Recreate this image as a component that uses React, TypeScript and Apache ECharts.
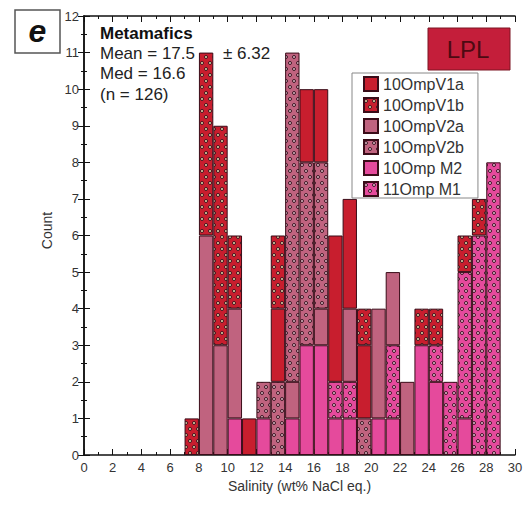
import React, { useEffect, useRef } from "react";
import * as echarts from "echarts";

// Bin lower edges (bin width = 1 wt%)
const binStarts = [7, 8, 9, 10, 11, 12, 13, 14, 15, 16, 17, 18, 19, 20, 21, 22, 23, 24, 25, 26, 27, 28];
// Counts per bin, stacked bottom-to-top in this order: M2, M1, V2a, V2b, V1a, V1b
const m2 = [0, 0, 0, 1, 0, 1, 0, 1, 3, 3, 1, 1, 0, 1, 1, 0, 3, 2, 0, 1, 0, 0];
const m1 = [0, 0, 0, 0, 0, 0, 0, 0, 0, 0, 1, 1, 0, 0, 2, 0, 0, 1, 2, 4, 6, 8];
const v2a = [0, 6, 3, 3, 0, 0, 0, 1, 0, 1, 0, 2, 0, 3, 2, 2, 0, 0, 0, 0, 0, 0];
const v2b = [0, 0, 0, 0, 0, 1, 2, 9, 5, 4, 0, 0, 1, 0, 0, 0, 0, 0, 0, 0, 0, 0];
const v1a = [0, 0, 0, 0, 1, 0, 2, 0, 2, 2, 4, 3, 2, 0, 0, 0, 0, 0, 0, 0, 0, 0];
const v1b = [1, 5, 6, 2, 0, 0, 2, 0, 0, 0, 0, 0, 1, 0, 0, 0, 1, 1, 0, 1, 1, 0];

const allBins = Array.from({ length: 30 }, (_, i) => String(i));
const statLines = ["Mean = 17.5", "Med = 16.6", "(n = 126)"];
const statSd = "± 6.32";

const FONT = "'Liberation Sans', Arial, Helvetica, sans-serif";
const RED = "#c81e2e";
const MAUVE = "#c0637f";
const PINK = "#e54a9c";
const BORDER = "#3a0c18";

function dotPattern(bg: string, center: string) {
  const c = document.createElement("canvas");
  c.width = 8;
  c.height = 12;
  const ctx = c.getContext("2d")!;
  ctx.fillStyle = bg;
  ctx.fillRect(0, 0, 8, 12);
  const dots = [
    [2, 3],
    [6, 9],
  ];
  for (const [x, y] of dots) {
    ctx.beginPath();
    ctx.arc(x, y, 1.5, 0, Math.PI * 2);
    ctx.fillStyle = center;
    ctx.fill();
    ctx.lineWidth = 0.9;
    ctx.strokeStyle = "#2a0a14";
    ctx.stroke();
  }
  return { image: c, repeat: "repeat", imageWidth: 8, imageHeight: 12 } as any;
}

function toFull(vals: number[]) {
  const out: (number | null)[] = allBins.map(() => null);
  binStarts.forEach((b, i) => {
    out[b] = vals[i] > 0 ? vals[i] : null;
  });
  return out;
}

export default function App() {
  const ref = useRef<HTMLDivElement>(null);
  useEffect(() => {
    if (!ref.current) return;
    const chart = echarts.init(ref.current, undefined, { renderer: "svg" });
    const axisLine = { show: true, lineStyle: { color: "#111", width: 1.5 } };
    const tick = { show: true, inside: true, length: 6, lineStyle: { color: "#111", width: 1 } };
    const minor = { show: true, splitNumber: 2, length: 3, lineStyle: { color: "#111", width: 1 } };
    const mk = (name: string, vals: number[], color: any) => ({
      name,
      type: "bar",
      stack: "all",
      xAxisIndex: 0,
      yAxisIndex: 0,
      barWidth: "100%",
      data: toFull(vals),
      itemStyle: { color, borderColor: BORDER, borderWidth: 1 },
      emphasis: { disabled: true },
    });
    const series = [
      mk("10Omp M2", m2, PINK),
      mk("11Omp M1", m1, dotPattern(PINK, "#f6c6de")),
      mk("10OmpV2a", v2a, MAUVE),
      mk("10OmpV2b", v2b, dotPattern(MAUVE, "#e8c2cf")),
      mk("10OmpV1a", v1a, RED),
      mk("10OmpV1b", v1b, dotPattern(RED, "#f7e6b8")),
    ];
    chart.setOption({
      animation: false,
      backgroundColor: "#fff",
      textStyle: { fontFamily: FONT },
      grid: { left: 84, right: 17, top: 16, bottom: 57, containLabel: false },
      xAxis: [
        { type: "category", data: allBins, show: false, boundaryGap: true, position: "top" },
        {
          type: "value",
          min: 0,
          max: 30,
          interval: 2,
          position: "bottom",
          axisLine,
          axisTick: tick,
          minorTick: minor,
          splitLine: { show: false },
          axisLabel: { color: "#333", fontSize: 13, margin: 6, fontFamily: FONT },
          name: "Salinity (wt% NaCl eq.)",
          nameLocation: "middle",
          nameGap: 23,
          nameTextStyle: { color: "#333", fontSize: 14, fontFamily: FONT },
        },
        {
          type: "value",
          min: 0,
          max: 30,
          interval: 2,
          position: "top",
          axisLine,
          axisTick: tick,
          minorTick: minor,
          splitLine: { show: false },
          axisLabel: { show: false },
        },
      ],
      yAxis: [
        {
          type: "value",
          min: 0,
          max: 12,
          interval: 1,
          position: "left",
          axisLine,
          axisTick: tick,
          minorTick: minor,
          splitLine: { show: false },
          axisLabel: { color: "#333", fontSize: 13, margin: 5, fontFamily: FONT },
          name: "Count",
          nameLocation: "middle",
          nameGap: 17,
          nameTextStyle: { color: "#333", fontSize: 14, fontFamily: FONT, padding: [0, 0, 0, 10] },
        },
        {
          type: "value",
          min: 0,
          max: 12,
          interval: 1,
          position: "right",
          axisLine,
          axisTick: tick,
          minorTick: minor,
          splitLine: { show: false },
          axisLabel: { show: false },
        },
      ],
      legend: {
        data: ["10OmpV1a", "10OmpV1b", "10OmpV2a", "10OmpV2b", "10Omp M2", "11Omp M1"],
        orient: "vertical",
        left: 352,
        top: 73,
        itemWidth: 14,
        itemHeight: 14,
        itemGap: 5,
        padding: [3, 14, 1, 11],
        icon: "rect",
        backgroundColor: "#fff",
        borderColor: "#888",
        borderWidth: 1,
        selectedMode: false,
        textStyle: { fontSize: 16, color: "#333", fontFamily: FONT },
      },
      graphic: [
        {
          type: "rect",
          shape: { x: 15, y: 10, width: 45, height: 43 },
          style: { fill: "#fff", stroke: "#555", lineWidth: 1.5 },
        },
        {
          type: "text",
          x: 37.5,
          y: 31,
          style: {
            text: "e",
            align: "center",
            verticalAlign: "middle",
            font: `italic bold 32px ${FONT}`,
            fill: "#111",
          },
        },
        {
          type: "text",
          x: 100,
          y: 33,
          style: { text: "Metamafics", verticalAlign: "middle", font: `bold 17px ${FONT}`, fill: "#111" },
        },
        ...statLines.map((t, i) => ({
          type: "text",
          x: 100,
          y: 53 + i * 20.5,
          style: { text: t, verticalAlign: "middle", font: `17px ${FONT}`, fill: "#222" },
        })),
        {
          type: "text",
          x: 223,
          y: 53,
          style: { text: statSd, verticalAlign: "middle", font: `17px ${FONT}`, fill: "#222" },
        },
        {
          type: "rect",
          shape: { x: 428, y: 28, width: 82, height: 42 },
          style: { fill: "#c41e3a", stroke: "#7d1422", lineWidth: 1 },
        },
        {
          type: "text",
          x: 468,
          y: 49,
          style: {
            text: "LPL",
            align: "center",
            verticalAlign: "middle",
            font: `24px ${FONT}`,
            fill: "#4d0a12",
          },
        },
      ],
      series,
    });
    return () => chart.dispose();
  }, []);
  return (
    <div
      ref={ref}
      style={{ position: "absolute", left: 0, top: 0, width: 532, height: 512, background: "#fff" }}
    />
  );
}
